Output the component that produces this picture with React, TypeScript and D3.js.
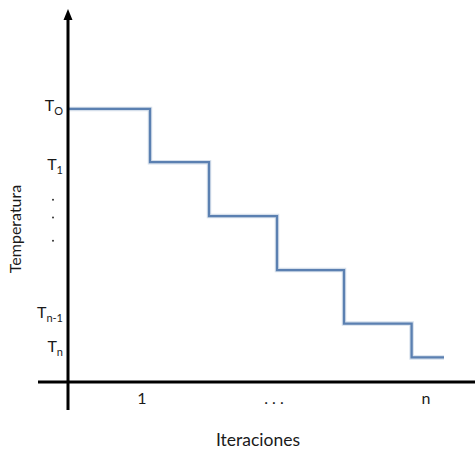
import React from "react";
import * as d3 from "d3";

// Step breakpoints along the iteration axis (data units) and temperature levels
const stepX = [0, 20.5, 35.25, 52.25, 69, 85.9, 94];
const levels = [73.4, 59.1, 44.6, 30.1, 15.7, 6.6];
const yTickLabels = [
  { base: "T", sub: "O", value: 72.8 },
  { base: "T", sub: "1", value: 57.0 },
  { base: "T", sub: "n-1", value: 17.2 },
  { base: "T", sub: "n", value: 8.1 },
];
const yDots = [49, 44.2, 38];
const xTickLabels = [
  { label: "1", value: 18.5 },
  { label: ". . .", value: 51.5 },
  { label: "n", value: 89.5 },
];

const W = 475;
const H = 450;
const FONT = "Lato, 'Open Sans', sans-serif";

export default function App() {
  const x = d3.scaleLinear().domain([0, 100]).range([68, 468]);
  const y = d3.scaleLinear().domain([0, 100]).range([382, 10]);

  const pts: [number, number][] = [];
  levels.forEach((lv, i) => {
    pts.push([stepX[i], lv]);
    pts.push([stepX[i + 1], lv]);
  });
  const line = d3
    .line<[number, number]>()
    .x((d) => x(d[0]))
    .y((d) => y(d[1]));

  const ax = x(0);
  const ay = y(0);

  return (
    <svg
      width={W}
      height={H}
      style={{ position: "absolute", left: 0, top: 0, background: "#fff" }}
    >
      {/* step line with soft glow */}
      <path d={line(pts) || ""} fill="none" stroke="#b9c9de" strokeWidth={4.5} opacity={0.6} />
      <path d={line(pts) || ""} fill="none" stroke="#5b80b1" strokeWidth={2.3} />

      {/* axes */}
      <line x1={38} x2={W} y1={ay} y2={ay} stroke="#000" strokeWidth={3} />
      <line x1={ax} x2={ax} y1={410} y2={18} stroke="#000" strokeWidth={3} />
      <path d={`M${ax},9 L${ax - 4.5},20 L${ax + 4.5},20 Z`} fill="#000" />

      {/* y tick labels */}
      {yTickLabels.map((t, i) => (
        <text
          key={i}
          x={ax - 5}
          y={y(t.value)}
          textAnchor="end"
          fontFamily={FONT}
          fontSize={16}
          fill="#1a1a1a"
        >
          <tspan>{t.base}</tspan>
          <tspan fontSize={11} dy={4}>{t.sub}</tspan>
        </text>
      ))}
      {yDots.map((v, i) => (
        <circle key={i} cx={53} cy={y(v)} r={1} fill="#333" />
      ))}

      {/* x tick labels */}
      {xTickLabels.map((t, i) => (
        <text
          key={i}
          x={x(t.value)}
          y={404}
          textAnchor="middle"
          fontFamily={FONT}
          fontSize={16}
          fill="#1a1a1a"
        >
          {t.label}
        </text>
      ))}

      {/* axis titles */}
      <text
        x={258}
        y={446}
        textAnchor="middle"
        fontFamily={FONT}
        fontSize={17.5}
        fill="#1a1a1a"
      >
        Iteraciones
      </text>
      <text
        transform={`translate(21,229) rotate(-90)`}
        textAnchor="middle"
        fontFamily={FONT}
        fontSize={16}
        fill="#1a1a1a"
      >
        Temperatura
      </text>
    </svg>
  );
}
